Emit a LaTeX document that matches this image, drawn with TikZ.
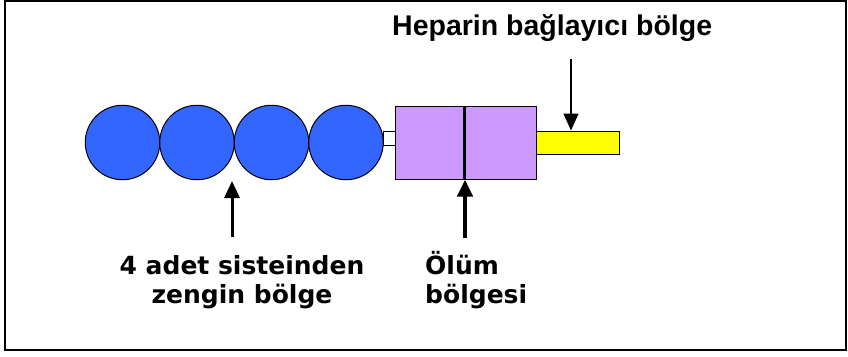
\documentclass[tikz,border=0pt]{standalone}
\usepackage{fontspec}
\setmainfont{DejaVu Sans}
\newfontfamily\hepfont{Liberation Sans}
\usetikzlibrary{arrows.meta}
\definecolor{beadblue}{HTML}{3366FF}
\definecolor{deathpurple}{HTML}{CC99FF}
\definecolor{hepyellow}{HTML}{FFFF00}
\begin{document}
\begin{tikzpicture}[x=1pt,y=-1pt,
  bead/.style={circle,draw=black,line width=1pt,fill=beadblue,minimum size=74.5pt,inner sep=0pt},
  boxpart/.style={rectangle,draw=black,line width=1pt,inner sep=0pt},
  ptr/.style={-{Triangle[width=15pt,length=17pt]},black},
  lbl/.style={font=\bfseries\fontsize{25}{28.5}\selectfont,inner sep=0pt}
]
\useasboundingbox (0,0) rectangle (848,356);
\draw[line width=2.5pt] (5,1) rectangle (846,350);
% beads
\node[bead] (c1) at (122.5,142.5) {};
\node[bead] (c2) at (197,142.5) {};
\node[bead] (c3) at (271.5,142.5) {};
\node[bead] (c4) at (346,142.5) {};
% linker
\node[boxpart,fill=white,minimum width=12pt,minimum height=14pt] (link) at (389,138) {};
% death domain
\node[boxpart,fill=deathpurple,minimum width=141pt,minimum height=73pt] (death) at (465.5,142.5) {};
\draw[line width=3pt] ([xshift=-1.5pt]death.north) -- ([xshift=-1.5pt]death.south);
% heparin binding
\node[boxpart,fill=hepyellow,minimum width=83pt,minimum height=23pt] (hep) at (577.5,142.5) {};
% labels
\node[font=\hepfont\bfseries\fontsize{28.5}{32}\selectfont,anchor=base west,inner sep=0pt] (heplab) at (392,35) {Heparin bağlayıcı bölge};
\node[lbl,align=center,anchor=base] (cyslab) at (242,303) {4 adet sisteinden\\zengin bölge};
\node[lbl,align=left,anchor=base west] (deathlab) at (425,303) {Ölüm\\bölgesi};
% arrows
\coordinate (heptop) at (571,59);
\coordinate (cystop) at (232,237);
\coordinate (cystip) at (232,181);
\coordinate (deathbot) at (465,238);
\draw[ptr,line width=1.5pt] (heptop) -- (heptop |- hep.north);
\draw[ptr,line width=3pt] (cystop) -- (cystip);
\draw[ptr,line width=4.5pt] (deathbot) -- (deathbot |- death.south);
\end{tikzpicture}
\end{document}
